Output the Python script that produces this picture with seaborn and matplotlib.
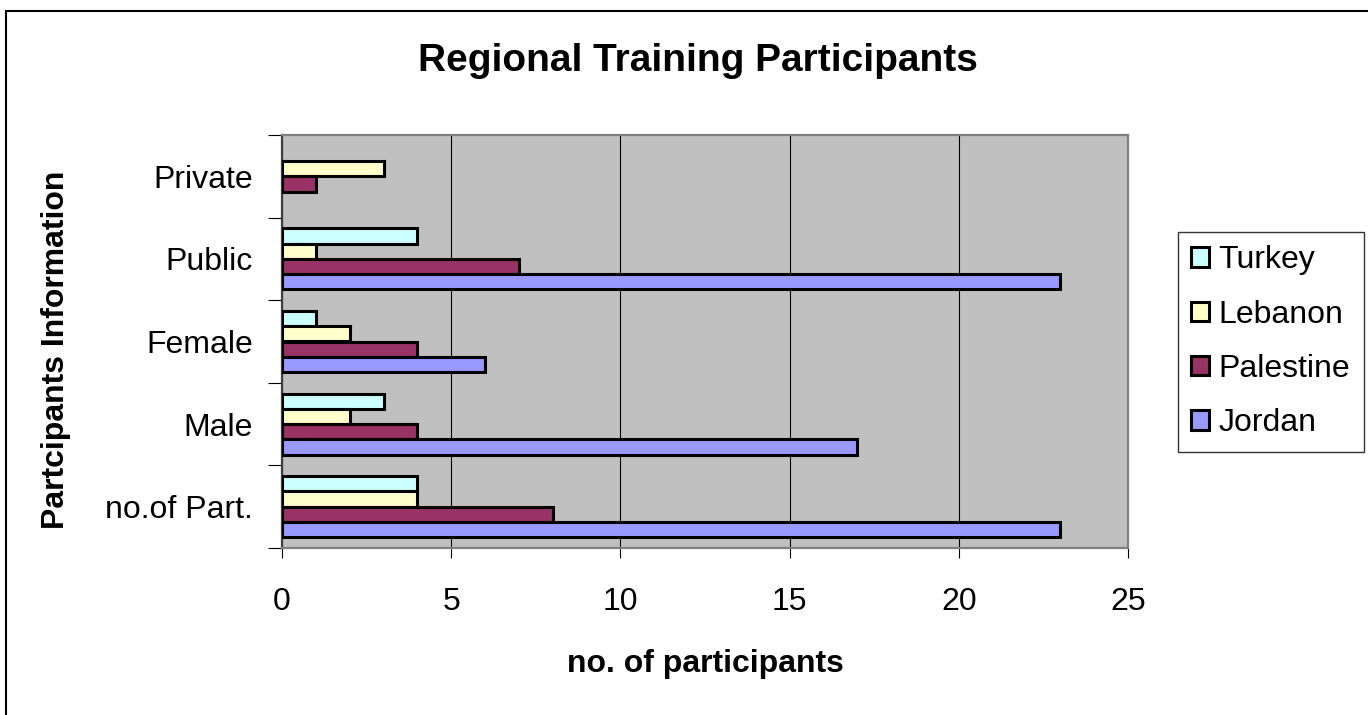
import matplotlib
matplotlib.use("Agg")
import matplotlib.pyplot as plt
from matplotlib.lines import Line2D
import numpy as np
import pandas as pd
import seaborn as sns

categories = ["Private", "Public", "Female", "Male", "no.of Part."]
countries = ["Turkey", "Lebanon", "Palestine", "Jordan"]
turkey = [0, 4, 1, 3, 4]
lebanon = [3, 1, 2, 2, 4]
palestine = [1, 7, 4, 4, 8]
jordan = [0, 23, 6, 17, 23]
colors = ["#CCFFFF", "#FFFFCC", "#993366", "#9999FF"]


def build_frame() -> pd.DataFrame:
    rows = []
    for country, values in zip(countries, [turkey, lebanon, palestine, jordan]):
        for cat, v in zip(categories, values):
            rows.append({"category": cat, "country": country, "count": v})
    return pd.DataFrame(rows)


def main() -> None:
    sns.set_style("white")
    plt.rcParams["font.family"] = ["Liberation Sans", "DejaVu Sans"]
    for key in ["text.color", "axes.labelcolor", "xtick.color", "ytick.color"]:
        plt.rcParams[key] = "black"

    df = build_frame()
    W, H = 1368, 715
    fig = plt.figure(figsize=(W / 100, H / 100), dpi=100)
    ax = fig.add_axes([282 / W, 1 - 548 / H, (1128 - 282) / W, (548 - 135) / H])

    sns.barplot(
        data=df,
        x="count",
        y="category",
        hue="country",
        order=categories,
        hue_order=countries,
        palette=colors,
        saturation=1,
        width=0.74,
        edgecolor="black",
        linewidth=2.2,
        errorbar=None,
        ax=ax,
        zorder=3,
    )
    # empty bars should not leave an outline at zero
    for container in ax.containers:
        for patch in container:
            if patch.get_width() == 0:
                patch.set_linewidth(0)

    ax.set_facecolor("#C0C0C0")
    ax.set_xlim(0, 25)
    ax.set_ylim(4.5, -0.5)
    ax.set_xticks(np.arange(0, 26, 5))
    ax.set_yticks(np.arange(-0.5, 5, 1), minor=True)
    ax.grid(axis="x", color="black", linewidth=0.8, zorder=1)
    ax.set_axisbelow(True)
    for side in ["left", "right", "top", "bottom"]:
        ax.spines[side].set_color("#808080")
        ax.spines[side].set_linewidth(1.6)
    ax.spines["left"].set_color("#404040")

    ax.tick_params(axis="x", which="major", length=7, width=0.8, color="black",
                   direction="out", pad=21, labelsize=23, bottom=True)
    ax.tick_params(axis="y", which="major", length=0, pad=21, labelsize=23)
    ax.tick_params(axis="y", which="minor", length=10, width=0.8, color="black",
                   direction="out", left=True)

    ax.set_xlabel("no. of participants", fontsize=23, fontweight="bold")
    ax.set_ylabel("Partcipants Information", fontsize=23, fontweight="bold")
    ax.xaxis.set_label_coords(0.5, -0.245)
    ax.yaxis.set_label_coords(-0.249, 0.479)

    fig.text(698 / W, 1 - 61 / H, "Regional Training Participants",
             fontsize=28, fontweight="bold", ha="center", va="center")

    handles, labels = ax.get_legend_handles_labels()
    if ax.get_legend() is not None:
        ax.get_legend().remove()
    leg = fig.legend(
        handles, labels,
        loc="upper left",
        bbox_to_anchor=(1178 / W, 1 - 232 / H),
        fontsize=23,
        frameon=True,
        fancybox=False,
        edgecolor="black",
        handlelength=0.55,
        handleheight=0.55,
        handletextpad=0.3,
        labelspacing=0.76,
        borderpad=0.42,
        borderaxespad=0,
    )
    leg.get_frame().set_linewidth(1.0)

    fig.add_artist(Line2D([6 / W, 6 / W], [0, 1 - 11 / H], color="black", linewidth=1.5))
    fig.add_artist(Line2D([6 / W, 1], [1 - 11 / H, 1 - 11 / H], color="black", linewidth=1.5))

    fig.savefig("out.png", dpi=100)
    plt.close(fig)


if __name__ == "__main__":
    main()
